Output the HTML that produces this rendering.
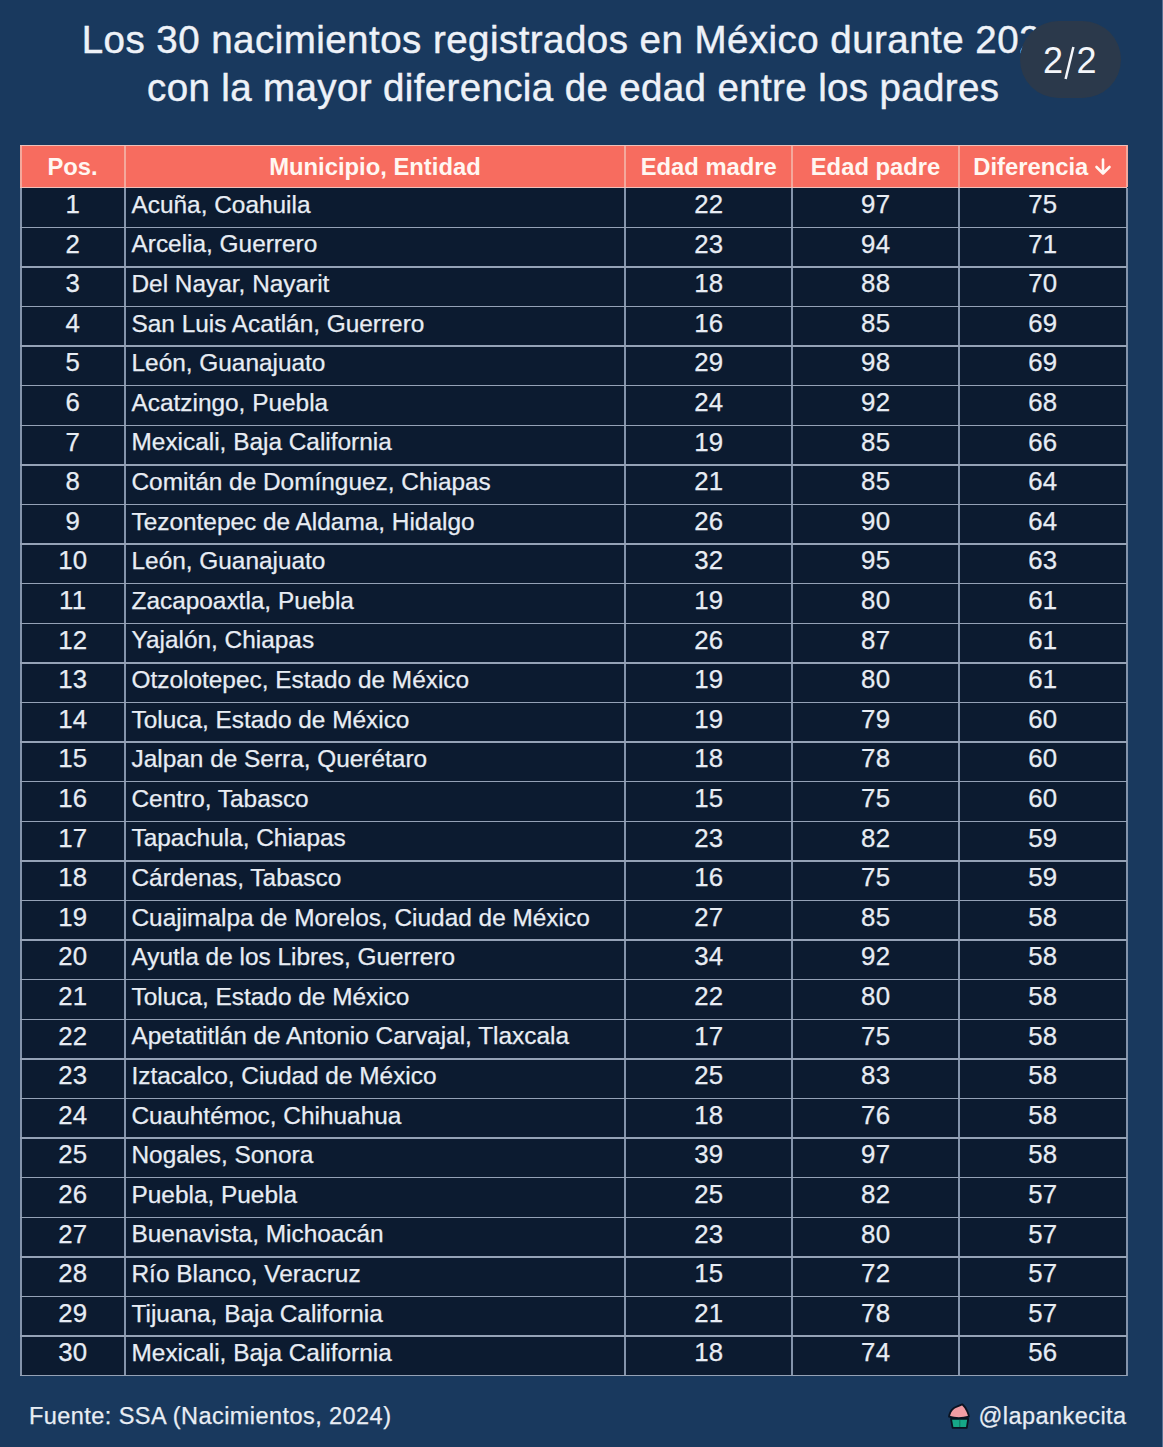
<!DOCTYPE html><html><head><meta charset="utf-8"><style>
html,body{margin:0;padding:0;}
body{width:1163px;height:1447px;overflow:hidden;background:#19395e;position:relative;font-family:"Liberation Sans",sans-serif;color:#e8edf4;-webkit-text-stroke:0.25px #e8edf4;}
.a{position:absolute;}
.t{position:absolute;white-space:nowrap;line-height:1;}
.ln{position:absolute;background:#c5cbd6;}
.hd{color:#fff7f2;font-weight:bold;-webkit-text-stroke:0;}

</style></head><body>
<div class="a" style="left:1162px;top:0;width:1px;height:1447px;background:#587093;"></div>
<div class="t" id="t1" style="-webkit-text-stroke:0.45px #eef2f8;color:#eef2f8;left:-1px;width:1146.5px;text-align:center;top:21px;font-size:38.5px;letter-spacing:0.46px;">Los 30 nacimientos registrados en México durante 2024</div>
<div class="t" id="t2" style="-webkit-text-stroke:0.45px #eef2f8;color:#eef2f8;left:0;width:1146.5px;text-align:center;top:69.3px;font-size:38.5px;letter-spacing:0.37px;">con la mayor diferencia de edad entre los padres</div>
<div class="a" id="badge" style="left:1020px;top:21px;width:100.5px;height:77px;border-radius:38.5px;background:#2b394b;"></div>
<div class="t" style="left:1043px;top:42.5px;font-size:36px;-webkit-text-stroke:0;color:#f4f6fa;">2</div>
<div class="t" style="left:1076.5px;top:42.5px;font-size:36px;-webkit-text-stroke:0;color:#f4f6fa;">2</div>
<svg class="a" style="left:1040px;top:40px;" width="50" height="45" viewBox="1040 40 50 45"><path d="M1065.6 79L1073.4 47" stroke="#f4f6fa" stroke-width="2.5" stroke-linecap="butt"/></svg>
<div class="a" style="left:20.7px;top:145.5px;width:1105.80px;height:42.20px;background:#f76c5f;"></div>
<div class="a" style="left:20.7px;top:187.7px;width:1105.80px;height:1188.00px;background:#0c1b30;"></div>
<div class="t hd" style="left:20.70px;width:103.80px;text-align:center;top:154.70px;font-size:23.8px;letter-spacing:0px;">Pos.</div>
<div class="t hd" style="left:124.50px;width:500.90px;text-align:center;top:154.70px;font-size:23.8px;letter-spacing:0px;">Municipio, Entidad</div>
<div class="t hd" style="left:625.40px;width:166.70px;text-align:center;top:154.70px;font-size:23.8px;letter-spacing:0px;">Edad madre</div>
<div class="t hd" style="left:792.10px;width:166.90px;text-align:center;top:154.70px;font-size:23.8px;letter-spacing:0px;">Edad padre</div>
<div class="t hd" style="left:959.00px;width:167.50px;text-align:center;top:154.70px;font-size:23.8px;letter-spacing:0px;">Diferencia<svg width="18" height="18" viewBox="0 0 18 18" style="display:inline-block;vertical-align:-1px;margin-left:6px;"><path d="M9 1.5V15.5M2.5 9L9 15.5L15.5 9" fill="none" stroke="#fff7f2" stroke-width="2.6" stroke-linecap="round" stroke-linejoin="round"/></svg></div>
<div class="t" style="left:20.70px;width:103.80px;text-align:center;top:192.00px;font-size:25.8px;letter-spacing:0.2px;text-indent:0.2px;">1</div>
<div class="t" style="left:131.50px;top:192.70px;font-size:24.4px;letter-spacing:0px;">Acuña, Coahuila</div>
<div class="t" style="left:625.40px;width:166.70px;text-align:center;top:192.00px;font-size:25.8px;letter-spacing:0.2px;text-indent:0.2px;">22</div>
<div class="t" style="left:792.10px;width:166.90px;text-align:center;top:192.00px;font-size:25.8px;letter-spacing:0.2px;text-indent:0.2px;">97</div>
<div class="t" style="left:959.00px;width:167.50px;text-align:center;top:192.00px;font-size:25.8px;letter-spacing:0.2px;text-indent:0.2px;">75</div>
<div class="t" style="left:20.70px;width:103.80px;text-align:center;top:231.60px;font-size:25.8px;letter-spacing:0.2px;text-indent:0.2px;">2</div>
<div class="t" style="left:131.50px;top:232.30px;font-size:24.4px;letter-spacing:0px;">Arcelia, Guerrero</div>
<div class="t" style="left:625.40px;width:166.70px;text-align:center;top:231.60px;font-size:25.8px;letter-spacing:0.2px;text-indent:0.2px;">23</div>
<div class="t" style="left:792.10px;width:166.90px;text-align:center;top:231.60px;font-size:25.8px;letter-spacing:0.2px;text-indent:0.2px;">94</div>
<div class="t" style="left:959.00px;width:167.50px;text-align:center;top:231.60px;font-size:25.8px;letter-spacing:0.2px;text-indent:0.2px;">71</div>
<div class="t" style="left:20.70px;width:103.80px;text-align:center;top:271.20px;font-size:25.8px;letter-spacing:0.2px;text-indent:0.2px;">3</div>
<div class="t" style="left:131.50px;top:271.90px;font-size:24.4px;letter-spacing:0px;">Del Nayar, Nayarit</div>
<div class="t" style="left:625.40px;width:166.70px;text-align:center;top:271.20px;font-size:25.8px;letter-spacing:0.2px;text-indent:0.2px;">18</div>
<div class="t" style="left:792.10px;width:166.90px;text-align:center;top:271.20px;font-size:25.8px;letter-spacing:0.2px;text-indent:0.2px;">88</div>
<div class="t" style="left:959.00px;width:167.50px;text-align:center;top:271.20px;font-size:25.8px;letter-spacing:0.2px;text-indent:0.2px;">70</div>
<div class="t" style="left:20.70px;width:103.80px;text-align:center;top:310.80px;font-size:25.8px;letter-spacing:0.2px;text-indent:0.2px;">4</div>
<div class="t" style="left:131.50px;top:311.50px;font-size:24.4px;letter-spacing:0px;">San Luis Acatlán, Guerrero</div>
<div class="t" style="left:625.40px;width:166.70px;text-align:center;top:310.80px;font-size:25.8px;letter-spacing:0.2px;text-indent:0.2px;">16</div>
<div class="t" style="left:792.10px;width:166.90px;text-align:center;top:310.80px;font-size:25.8px;letter-spacing:0.2px;text-indent:0.2px;">85</div>
<div class="t" style="left:959.00px;width:167.50px;text-align:center;top:310.80px;font-size:25.8px;letter-spacing:0.2px;text-indent:0.2px;">69</div>
<div class="t" style="left:20.70px;width:103.80px;text-align:center;top:350.40px;font-size:25.8px;letter-spacing:0.2px;text-indent:0.2px;">5</div>
<div class="t" style="left:131.50px;top:351.10px;font-size:24.4px;letter-spacing:0px;">León, Guanajuato</div>
<div class="t" style="left:625.40px;width:166.70px;text-align:center;top:350.40px;font-size:25.8px;letter-spacing:0.2px;text-indent:0.2px;">29</div>
<div class="t" style="left:792.10px;width:166.90px;text-align:center;top:350.40px;font-size:25.8px;letter-spacing:0.2px;text-indent:0.2px;">98</div>
<div class="t" style="left:959.00px;width:167.50px;text-align:center;top:350.40px;font-size:25.8px;letter-spacing:0.2px;text-indent:0.2px;">69</div>
<div class="t" style="left:20.70px;width:103.80px;text-align:center;top:390.00px;font-size:25.8px;letter-spacing:0.2px;text-indent:0.2px;">6</div>
<div class="t" style="left:131.50px;top:390.70px;font-size:24.4px;letter-spacing:0px;">Acatzingo, Puebla</div>
<div class="t" style="left:625.40px;width:166.70px;text-align:center;top:390.00px;font-size:25.8px;letter-spacing:0.2px;text-indent:0.2px;">24</div>
<div class="t" style="left:792.10px;width:166.90px;text-align:center;top:390.00px;font-size:25.8px;letter-spacing:0.2px;text-indent:0.2px;">92</div>
<div class="t" style="left:959.00px;width:167.50px;text-align:center;top:390.00px;font-size:25.8px;letter-spacing:0.2px;text-indent:0.2px;">68</div>
<div class="t" style="left:20.70px;width:103.80px;text-align:center;top:429.60px;font-size:25.8px;letter-spacing:0.2px;text-indent:0.2px;">7</div>
<div class="t" style="left:131.50px;top:430.30px;font-size:24.4px;letter-spacing:0px;">Mexicali, Baja California</div>
<div class="t" style="left:625.40px;width:166.70px;text-align:center;top:429.60px;font-size:25.8px;letter-spacing:0.2px;text-indent:0.2px;">19</div>
<div class="t" style="left:792.10px;width:166.90px;text-align:center;top:429.60px;font-size:25.8px;letter-spacing:0.2px;text-indent:0.2px;">85</div>
<div class="t" style="left:959.00px;width:167.50px;text-align:center;top:429.60px;font-size:25.8px;letter-spacing:0.2px;text-indent:0.2px;">66</div>
<div class="t" style="left:20.70px;width:103.80px;text-align:center;top:469.20px;font-size:25.8px;letter-spacing:0.2px;text-indent:0.2px;">8</div>
<div class="t" style="left:131.50px;top:469.90px;font-size:24.4px;letter-spacing:0px;">Comitán de Domínguez, Chiapas</div>
<div class="t" style="left:625.40px;width:166.70px;text-align:center;top:469.20px;font-size:25.8px;letter-spacing:0.2px;text-indent:0.2px;">21</div>
<div class="t" style="left:792.10px;width:166.90px;text-align:center;top:469.20px;font-size:25.8px;letter-spacing:0.2px;text-indent:0.2px;">85</div>
<div class="t" style="left:959.00px;width:167.50px;text-align:center;top:469.20px;font-size:25.8px;letter-spacing:0.2px;text-indent:0.2px;">64</div>
<div class="t" style="left:20.70px;width:103.80px;text-align:center;top:508.80px;font-size:25.8px;letter-spacing:0.2px;text-indent:0.2px;">9</div>
<div class="t" style="left:131.50px;top:509.50px;font-size:24.4px;letter-spacing:0px;">Tezontepec de Aldama, Hidalgo</div>
<div class="t" style="left:625.40px;width:166.70px;text-align:center;top:508.80px;font-size:25.8px;letter-spacing:0.2px;text-indent:0.2px;">26</div>
<div class="t" style="left:792.10px;width:166.90px;text-align:center;top:508.80px;font-size:25.8px;letter-spacing:0.2px;text-indent:0.2px;">90</div>
<div class="t" style="left:959.00px;width:167.50px;text-align:center;top:508.80px;font-size:25.8px;letter-spacing:0.2px;text-indent:0.2px;">64</div>
<div class="t" style="left:20.70px;width:103.80px;text-align:center;top:548.40px;font-size:25.8px;letter-spacing:0.2px;text-indent:0.2px;">10</div>
<div class="t" style="left:131.50px;top:549.10px;font-size:24.4px;letter-spacing:0px;">León, Guanajuato</div>
<div class="t" style="left:625.40px;width:166.70px;text-align:center;top:548.40px;font-size:25.8px;letter-spacing:0.2px;text-indent:0.2px;">32</div>
<div class="t" style="left:792.10px;width:166.90px;text-align:center;top:548.40px;font-size:25.8px;letter-spacing:0.2px;text-indent:0.2px;">95</div>
<div class="t" style="left:959.00px;width:167.50px;text-align:center;top:548.40px;font-size:25.8px;letter-spacing:0.2px;text-indent:0.2px;">63</div>
<div class="t" style="left:20.70px;width:103.80px;text-align:center;top:588.00px;font-size:25.8px;letter-spacing:0.2px;text-indent:0.2px;">11</div>
<div class="t" style="left:131.50px;top:588.70px;font-size:24.4px;letter-spacing:0px;">Zacapoaxtla, Puebla</div>
<div class="t" style="left:625.40px;width:166.70px;text-align:center;top:588.00px;font-size:25.8px;letter-spacing:0.2px;text-indent:0.2px;">19</div>
<div class="t" style="left:792.10px;width:166.90px;text-align:center;top:588.00px;font-size:25.8px;letter-spacing:0.2px;text-indent:0.2px;">80</div>
<div class="t" style="left:959.00px;width:167.50px;text-align:center;top:588.00px;font-size:25.8px;letter-spacing:0.2px;text-indent:0.2px;">61</div>
<div class="t" style="left:20.70px;width:103.80px;text-align:center;top:627.60px;font-size:25.8px;letter-spacing:0.2px;text-indent:0.2px;">12</div>
<div class="t" style="left:131.50px;top:628.30px;font-size:24.4px;letter-spacing:0px;">Yajalón, Chiapas</div>
<div class="t" style="left:625.40px;width:166.70px;text-align:center;top:627.60px;font-size:25.8px;letter-spacing:0.2px;text-indent:0.2px;">26</div>
<div class="t" style="left:792.10px;width:166.90px;text-align:center;top:627.60px;font-size:25.8px;letter-spacing:0.2px;text-indent:0.2px;">87</div>
<div class="t" style="left:959.00px;width:167.50px;text-align:center;top:627.60px;font-size:25.8px;letter-spacing:0.2px;text-indent:0.2px;">61</div>
<div class="t" style="left:20.70px;width:103.80px;text-align:center;top:667.20px;font-size:25.8px;letter-spacing:0.2px;text-indent:0.2px;">13</div>
<div class="t" style="left:131.50px;top:667.90px;font-size:24.4px;letter-spacing:0px;">Otzolotepec, Estado de México</div>
<div class="t" style="left:625.40px;width:166.70px;text-align:center;top:667.20px;font-size:25.8px;letter-spacing:0.2px;text-indent:0.2px;">19</div>
<div class="t" style="left:792.10px;width:166.90px;text-align:center;top:667.20px;font-size:25.8px;letter-spacing:0.2px;text-indent:0.2px;">80</div>
<div class="t" style="left:959.00px;width:167.50px;text-align:center;top:667.20px;font-size:25.8px;letter-spacing:0.2px;text-indent:0.2px;">61</div>
<div class="t" style="left:20.70px;width:103.80px;text-align:center;top:706.80px;font-size:25.8px;letter-spacing:0.2px;text-indent:0.2px;">14</div>
<div class="t" style="left:131.50px;top:707.50px;font-size:24.4px;letter-spacing:0px;">Toluca, Estado de México</div>
<div class="t" style="left:625.40px;width:166.70px;text-align:center;top:706.80px;font-size:25.8px;letter-spacing:0.2px;text-indent:0.2px;">19</div>
<div class="t" style="left:792.10px;width:166.90px;text-align:center;top:706.80px;font-size:25.8px;letter-spacing:0.2px;text-indent:0.2px;">79</div>
<div class="t" style="left:959.00px;width:167.50px;text-align:center;top:706.80px;font-size:25.8px;letter-spacing:0.2px;text-indent:0.2px;">60</div>
<div class="t" style="left:20.70px;width:103.80px;text-align:center;top:746.40px;font-size:25.8px;letter-spacing:0.2px;text-indent:0.2px;">15</div>
<div class="t" style="left:131.50px;top:747.10px;font-size:24.4px;letter-spacing:0px;">Jalpan de Serra, Querétaro</div>
<div class="t" style="left:625.40px;width:166.70px;text-align:center;top:746.40px;font-size:25.8px;letter-spacing:0.2px;text-indent:0.2px;">18</div>
<div class="t" style="left:792.10px;width:166.90px;text-align:center;top:746.40px;font-size:25.8px;letter-spacing:0.2px;text-indent:0.2px;">78</div>
<div class="t" style="left:959.00px;width:167.50px;text-align:center;top:746.40px;font-size:25.8px;letter-spacing:0.2px;text-indent:0.2px;">60</div>
<div class="t" style="left:20.70px;width:103.80px;text-align:center;top:786.00px;font-size:25.8px;letter-spacing:0.2px;text-indent:0.2px;">16</div>
<div class="t" style="left:131.50px;top:786.70px;font-size:24.4px;letter-spacing:0px;">Centro, Tabasco</div>
<div class="t" style="left:625.40px;width:166.70px;text-align:center;top:786.00px;font-size:25.8px;letter-spacing:0.2px;text-indent:0.2px;">15</div>
<div class="t" style="left:792.10px;width:166.90px;text-align:center;top:786.00px;font-size:25.8px;letter-spacing:0.2px;text-indent:0.2px;">75</div>
<div class="t" style="left:959.00px;width:167.50px;text-align:center;top:786.00px;font-size:25.8px;letter-spacing:0.2px;text-indent:0.2px;">60</div>
<div class="t" style="left:20.70px;width:103.80px;text-align:center;top:825.60px;font-size:25.8px;letter-spacing:0.2px;text-indent:0.2px;">17</div>
<div class="t" style="left:131.50px;top:826.30px;font-size:24.4px;letter-spacing:0px;">Tapachula, Chiapas</div>
<div class="t" style="left:625.40px;width:166.70px;text-align:center;top:825.60px;font-size:25.8px;letter-spacing:0.2px;text-indent:0.2px;">23</div>
<div class="t" style="left:792.10px;width:166.90px;text-align:center;top:825.60px;font-size:25.8px;letter-spacing:0.2px;text-indent:0.2px;">82</div>
<div class="t" style="left:959.00px;width:167.50px;text-align:center;top:825.60px;font-size:25.8px;letter-spacing:0.2px;text-indent:0.2px;">59</div>
<div class="t" style="left:20.70px;width:103.80px;text-align:center;top:865.20px;font-size:25.8px;letter-spacing:0.2px;text-indent:0.2px;">18</div>
<div class="t" style="left:131.50px;top:865.90px;font-size:24.4px;letter-spacing:0px;">Cárdenas, Tabasco</div>
<div class="t" style="left:625.40px;width:166.70px;text-align:center;top:865.20px;font-size:25.8px;letter-spacing:0.2px;text-indent:0.2px;">16</div>
<div class="t" style="left:792.10px;width:166.90px;text-align:center;top:865.20px;font-size:25.8px;letter-spacing:0.2px;text-indent:0.2px;">75</div>
<div class="t" style="left:959.00px;width:167.50px;text-align:center;top:865.20px;font-size:25.8px;letter-spacing:0.2px;text-indent:0.2px;">59</div>
<div class="t" style="left:20.70px;width:103.80px;text-align:center;top:904.80px;font-size:25.8px;letter-spacing:0.2px;text-indent:0.2px;">19</div>
<div class="t" style="left:131.50px;top:905.50px;font-size:24.4px;letter-spacing:0px;">Cuajimalpa de Morelos, Ciudad de México</div>
<div class="t" style="left:625.40px;width:166.70px;text-align:center;top:904.80px;font-size:25.8px;letter-spacing:0.2px;text-indent:0.2px;">27</div>
<div class="t" style="left:792.10px;width:166.90px;text-align:center;top:904.80px;font-size:25.8px;letter-spacing:0.2px;text-indent:0.2px;">85</div>
<div class="t" style="left:959.00px;width:167.50px;text-align:center;top:904.80px;font-size:25.8px;letter-spacing:0.2px;text-indent:0.2px;">58</div>
<div class="t" style="left:20.70px;width:103.80px;text-align:center;top:944.40px;font-size:25.8px;letter-spacing:0.2px;text-indent:0.2px;">20</div>
<div class="t" style="left:131.50px;top:945.10px;font-size:24.4px;letter-spacing:0px;">Ayutla de los Libres, Guerrero</div>
<div class="t" style="left:625.40px;width:166.70px;text-align:center;top:944.40px;font-size:25.8px;letter-spacing:0.2px;text-indent:0.2px;">34</div>
<div class="t" style="left:792.10px;width:166.90px;text-align:center;top:944.40px;font-size:25.8px;letter-spacing:0.2px;text-indent:0.2px;">92</div>
<div class="t" style="left:959.00px;width:167.50px;text-align:center;top:944.40px;font-size:25.8px;letter-spacing:0.2px;text-indent:0.2px;">58</div>
<div class="t" style="left:20.70px;width:103.80px;text-align:center;top:984.00px;font-size:25.8px;letter-spacing:0.2px;text-indent:0.2px;">21</div>
<div class="t" style="left:131.50px;top:984.70px;font-size:24.4px;letter-spacing:0px;">Toluca, Estado de México</div>
<div class="t" style="left:625.40px;width:166.70px;text-align:center;top:984.00px;font-size:25.8px;letter-spacing:0.2px;text-indent:0.2px;">22</div>
<div class="t" style="left:792.10px;width:166.90px;text-align:center;top:984.00px;font-size:25.8px;letter-spacing:0.2px;text-indent:0.2px;">80</div>
<div class="t" style="left:959.00px;width:167.50px;text-align:center;top:984.00px;font-size:25.8px;letter-spacing:0.2px;text-indent:0.2px;">58</div>
<div class="t" style="left:20.70px;width:103.80px;text-align:center;top:1023.60px;font-size:25.8px;letter-spacing:0.2px;text-indent:0.2px;">22</div>
<div class="t" style="left:131.50px;top:1024.30px;font-size:24.4px;letter-spacing:0px;">Apetatitlán de Antonio Carvajal, Tlaxcala</div>
<div class="t" style="left:625.40px;width:166.70px;text-align:center;top:1023.60px;font-size:25.8px;letter-spacing:0.2px;text-indent:0.2px;">17</div>
<div class="t" style="left:792.10px;width:166.90px;text-align:center;top:1023.60px;font-size:25.8px;letter-spacing:0.2px;text-indent:0.2px;">75</div>
<div class="t" style="left:959.00px;width:167.50px;text-align:center;top:1023.60px;font-size:25.8px;letter-spacing:0.2px;text-indent:0.2px;">58</div>
<div class="t" style="left:20.70px;width:103.80px;text-align:center;top:1063.20px;font-size:25.8px;letter-spacing:0.2px;text-indent:0.2px;">23</div>
<div class="t" style="left:131.50px;top:1063.90px;font-size:24.4px;letter-spacing:0px;">Iztacalco, Ciudad de México</div>
<div class="t" style="left:625.40px;width:166.70px;text-align:center;top:1063.20px;font-size:25.8px;letter-spacing:0.2px;text-indent:0.2px;">25</div>
<div class="t" style="left:792.10px;width:166.90px;text-align:center;top:1063.20px;font-size:25.8px;letter-spacing:0.2px;text-indent:0.2px;">83</div>
<div class="t" style="left:959.00px;width:167.50px;text-align:center;top:1063.20px;font-size:25.8px;letter-spacing:0.2px;text-indent:0.2px;">58</div>
<div class="t" style="left:20.70px;width:103.80px;text-align:center;top:1102.80px;font-size:25.8px;letter-spacing:0.2px;text-indent:0.2px;">24</div>
<div class="t" style="left:131.50px;top:1103.50px;font-size:24.4px;letter-spacing:0px;">Cuauhtémoc, Chihuahua</div>
<div class="t" style="left:625.40px;width:166.70px;text-align:center;top:1102.80px;font-size:25.8px;letter-spacing:0.2px;text-indent:0.2px;">18</div>
<div class="t" style="left:792.10px;width:166.90px;text-align:center;top:1102.80px;font-size:25.8px;letter-spacing:0.2px;text-indent:0.2px;">76</div>
<div class="t" style="left:959.00px;width:167.50px;text-align:center;top:1102.80px;font-size:25.8px;letter-spacing:0.2px;text-indent:0.2px;">58</div>
<div class="t" style="left:20.70px;width:103.80px;text-align:center;top:1142.40px;font-size:25.8px;letter-spacing:0.2px;text-indent:0.2px;">25</div>
<div class="t" style="left:131.50px;top:1143.10px;font-size:24.4px;letter-spacing:0px;">Nogales, Sonora</div>
<div class="t" style="left:625.40px;width:166.70px;text-align:center;top:1142.40px;font-size:25.8px;letter-spacing:0.2px;text-indent:0.2px;">39</div>
<div class="t" style="left:792.10px;width:166.90px;text-align:center;top:1142.40px;font-size:25.8px;letter-spacing:0.2px;text-indent:0.2px;">97</div>
<div class="t" style="left:959.00px;width:167.50px;text-align:center;top:1142.40px;font-size:25.8px;letter-spacing:0.2px;text-indent:0.2px;">58</div>
<div class="t" style="left:20.70px;width:103.80px;text-align:center;top:1182.00px;font-size:25.8px;letter-spacing:0.2px;text-indent:0.2px;">26</div>
<div class="t" style="left:131.50px;top:1182.70px;font-size:24.4px;letter-spacing:0px;">Puebla, Puebla</div>
<div class="t" style="left:625.40px;width:166.70px;text-align:center;top:1182.00px;font-size:25.8px;letter-spacing:0.2px;text-indent:0.2px;">25</div>
<div class="t" style="left:792.10px;width:166.90px;text-align:center;top:1182.00px;font-size:25.8px;letter-spacing:0.2px;text-indent:0.2px;">82</div>
<div class="t" style="left:959.00px;width:167.50px;text-align:center;top:1182.00px;font-size:25.8px;letter-spacing:0.2px;text-indent:0.2px;">57</div>
<div class="t" style="left:20.70px;width:103.80px;text-align:center;top:1221.60px;font-size:25.8px;letter-spacing:0.2px;text-indent:0.2px;">27</div>
<div class="t" style="left:131.50px;top:1222.30px;font-size:24.4px;letter-spacing:0px;">Buenavista, Michoacán</div>
<div class="t" style="left:625.40px;width:166.70px;text-align:center;top:1221.60px;font-size:25.8px;letter-spacing:0.2px;text-indent:0.2px;">23</div>
<div class="t" style="left:792.10px;width:166.90px;text-align:center;top:1221.60px;font-size:25.8px;letter-spacing:0.2px;text-indent:0.2px;">80</div>
<div class="t" style="left:959.00px;width:167.50px;text-align:center;top:1221.60px;font-size:25.8px;letter-spacing:0.2px;text-indent:0.2px;">57</div>
<div class="t" style="left:20.70px;width:103.80px;text-align:center;top:1261.20px;font-size:25.8px;letter-spacing:0.2px;text-indent:0.2px;">28</div>
<div class="t" style="left:131.50px;top:1261.90px;font-size:24.4px;letter-spacing:0px;">Río Blanco, Veracruz</div>
<div class="t" style="left:625.40px;width:166.70px;text-align:center;top:1261.20px;font-size:25.8px;letter-spacing:0.2px;text-indent:0.2px;">15</div>
<div class="t" style="left:792.10px;width:166.90px;text-align:center;top:1261.20px;font-size:25.8px;letter-spacing:0.2px;text-indent:0.2px;">72</div>
<div class="t" style="left:959.00px;width:167.50px;text-align:center;top:1261.20px;font-size:25.8px;letter-spacing:0.2px;text-indent:0.2px;">57</div>
<div class="t" style="left:20.70px;width:103.80px;text-align:center;top:1300.80px;font-size:25.8px;letter-spacing:0.2px;text-indent:0.2px;">29</div>
<div class="t" style="left:131.50px;top:1301.50px;font-size:24.4px;letter-spacing:0px;">Tijuana, Baja California</div>
<div class="t" style="left:625.40px;width:166.70px;text-align:center;top:1300.80px;font-size:25.8px;letter-spacing:0.2px;text-indent:0.2px;">21</div>
<div class="t" style="left:792.10px;width:166.90px;text-align:center;top:1300.80px;font-size:25.8px;letter-spacing:0.2px;text-indent:0.2px;">78</div>
<div class="t" style="left:959.00px;width:167.50px;text-align:center;top:1300.80px;font-size:25.8px;letter-spacing:0.2px;text-indent:0.2px;">57</div>
<div class="t" style="left:20.70px;width:103.80px;text-align:center;top:1340.40px;font-size:25.8px;letter-spacing:0.2px;text-indent:0.2px;">30</div>
<div class="t" style="left:131.50px;top:1341.10px;font-size:24.4px;letter-spacing:0px;">Mexicali, Baja California</div>
<div class="t" style="left:625.40px;width:166.70px;text-align:center;top:1340.40px;font-size:25.8px;letter-spacing:0.2px;text-indent:0.2px;">18</div>
<div class="t" style="left:792.10px;width:166.90px;text-align:center;top:1340.40px;font-size:25.8px;letter-spacing:0.2px;text-indent:0.2px;">74</div>
<div class="t" style="left:959.00px;width:167.50px;text-align:center;top:1340.40px;font-size:25.8px;letter-spacing:0.2px;text-indent:0.2px;">56</div>
<div class="a" style="left:19.70px;top:144.70px;width:2px;height:42.20px;background:#f4a89c;"></div>
<div class="a" style="left:19.70px;top:187.70px;width:2px;height:1188.80px;background:#8494ab;"></div>
<div class="a" style="left:123.50px;top:144.70px;width:2px;height:42.20px;background:#f4a89c;"></div>
<div class="a" style="left:123.50px;top:187.70px;width:2px;height:1188.80px;background:#8494ab;"></div>
<div class="a" style="left:624.40px;top:144.70px;width:2px;height:42.20px;background:#f4a89c;"></div>
<div class="a" style="left:624.40px;top:187.70px;width:2px;height:1188.80px;background:#8494ab;"></div>
<div class="a" style="left:791.10px;top:144.70px;width:2px;height:42.20px;background:#f4a89c;"></div>
<div class="a" style="left:791.10px;top:187.70px;width:2px;height:1188.80px;background:#8494ab;"></div>
<div class="a" style="left:958.00px;top:144.70px;width:2px;height:42.20px;background:#f4a89c;"></div>
<div class="a" style="left:958.00px;top:187.70px;width:2px;height:1188.80px;background:#8494ab;"></div>
<div class="a" style="left:1125.50px;top:144.70px;width:2px;height:42.20px;background:#f4a89c;"></div>
<div class="a" style="left:1125.50px;top:187.70px;width:2px;height:1188.80px;background:#8494ab;"></div>
<div class="a" style="left:19.70px;top:144.70px;width:1107.80px;height:1.6px;background:#eec0ba;"></div>
<div class="a" style="left:19.70px;top:186.90px;width:1107.80px;height:1.6px;background:#eec0ba;"></div>
<div class="a" style="left:19.70px;top:226.50px;width:1107.80px;height:1.6px;background:#95a2b6;"></div>
<div class="a" style="left:19.70px;top:266.10px;width:1107.80px;height:1.6px;background:#95a2b6;"></div>
<div class="a" style="left:19.70px;top:305.70px;width:1107.80px;height:1.6px;background:#95a2b6;"></div>
<div class="a" style="left:19.70px;top:345.30px;width:1107.80px;height:1.6px;background:#95a2b6;"></div>
<div class="a" style="left:19.70px;top:384.90px;width:1107.80px;height:1.6px;background:#95a2b6;"></div>
<div class="a" style="left:19.70px;top:424.50px;width:1107.80px;height:1.6px;background:#95a2b6;"></div>
<div class="a" style="left:19.70px;top:464.10px;width:1107.80px;height:1.6px;background:#95a2b6;"></div>
<div class="a" style="left:19.70px;top:503.70px;width:1107.80px;height:1.6px;background:#95a2b6;"></div>
<div class="a" style="left:19.70px;top:543.30px;width:1107.80px;height:1.6px;background:#95a2b6;"></div>
<div class="a" style="left:19.70px;top:582.90px;width:1107.80px;height:1.6px;background:#95a2b6;"></div>
<div class="a" style="left:19.70px;top:622.50px;width:1107.80px;height:1.6px;background:#95a2b6;"></div>
<div class="a" style="left:19.70px;top:662.10px;width:1107.80px;height:1.6px;background:#95a2b6;"></div>
<div class="a" style="left:19.70px;top:701.70px;width:1107.80px;height:1.6px;background:#95a2b6;"></div>
<div class="a" style="left:19.70px;top:741.30px;width:1107.80px;height:1.6px;background:#95a2b6;"></div>
<div class="a" style="left:19.70px;top:780.90px;width:1107.80px;height:1.6px;background:#95a2b6;"></div>
<div class="a" style="left:19.70px;top:820.50px;width:1107.80px;height:1.6px;background:#95a2b6;"></div>
<div class="a" style="left:19.70px;top:860.10px;width:1107.80px;height:1.6px;background:#95a2b6;"></div>
<div class="a" style="left:19.70px;top:899.70px;width:1107.80px;height:1.6px;background:#95a2b6;"></div>
<div class="a" style="left:19.70px;top:939.30px;width:1107.80px;height:1.6px;background:#95a2b6;"></div>
<div class="a" style="left:19.70px;top:978.90px;width:1107.80px;height:1.6px;background:#95a2b6;"></div>
<div class="a" style="left:19.70px;top:1018.50px;width:1107.80px;height:1.6px;background:#95a2b6;"></div>
<div class="a" style="left:19.70px;top:1058.10px;width:1107.80px;height:1.6px;background:#95a2b6;"></div>
<div class="a" style="left:19.70px;top:1097.70px;width:1107.80px;height:1.6px;background:#95a2b6;"></div>
<div class="a" style="left:19.70px;top:1137.30px;width:1107.80px;height:1.6px;background:#95a2b6;"></div>
<div class="a" style="left:19.70px;top:1176.90px;width:1107.80px;height:1.6px;background:#95a2b6;"></div>
<div class="a" style="left:19.70px;top:1216.50px;width:1107.80px;height:1.6px;background:#95a2b6;"></div>
<div class="a" style="left:19.70px;top:1256.10px;width:1107.80px;height:1.6px;background:#95a2b6;"></div>
<div class="a" style="left:19.70px;top:1295.70px;width:1107.80px;height:1.6px;background:#95a2b6;"></div>
<div class="a" style="left:19.70px;top:1335.30px;width:1107.80px;height:1.6px;background:#95a2b6;"></div>
<div class="a" style="left:19.70px;top:1374.90px;width:1107.80px;height:1.6px;background:#95a2b6;"></div>
<div class="t" id="src" style="left:29px;top:1405.3px;font-size:23.5px;letter-spacing:0.44px;">Fuente: SSA (Nacimientos, 2024)</div>
<div class="t" id="hdl" style="left:978.5px;top:1405.3px;font-size:23.5px;letter-spacing:0.44px;">@lapankecita</div>
<svg class="a" style="left:940px;top:1398px;" width="40" height="36" viewBox="0 0 40 36">
<path d="M11 20.8H28.2L26.8 29.8H12.6Z" fill="#16a688" stroke="#0a1220" stroke-width="1.8" stroke-linejoin="round"/>
<path d="M9 18.6C9.5 15.4 11.4 11.8 13.6 10.2C16 8.6 19.2 8 22.3 6.3C24.5 8.2 26.4 11.3 27.4 13.6C28.2 15.4 28.7 17 28.9 18.6C22 20.6 15.6 20.6 9 18.6Z" fill="#f29ca3" stroke="#0a1220" stroke-width="1.8" stroke-linejoin="round"/>
<path d="M19.8 21.8V29" stroke="#0b6e58" stroke-width="0.9"/>
</svg>
</body></html>
